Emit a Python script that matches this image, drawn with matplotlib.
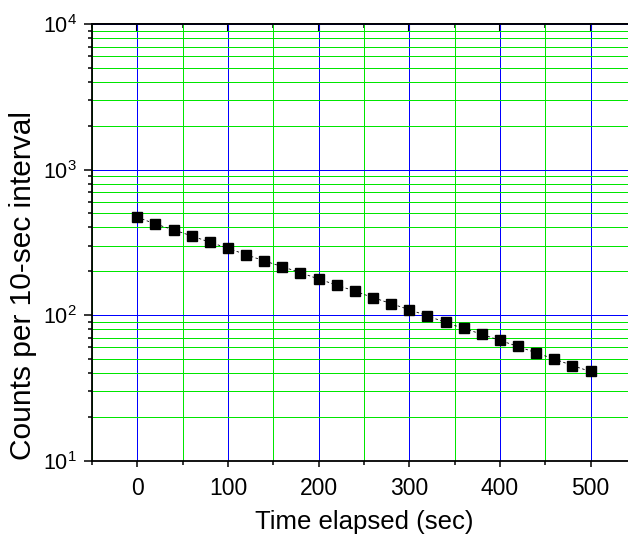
import numpy as np
import matplotlib.pyplot as plt
from matplotlib.ticker import LogLocator, MultipleLocator

plt.rcParams['font.family'] = 'Liberation Sans'
plt.rcParams['mathtext.fontset'] = 'custom'
plt.rcParams['mathtext.rm'] = 'Liberation Sans'
plt.rcParams['mathtext.it'] = 'Liberation Sans'

# time (sec) and counts per 10-sec interval
time_sec = [0, 20, 40, 60, 80, 100, 120, 140, 160, 180, 200, 220, 240,
            260, 280, 300, 320, 340, 360, 380, 400, 420, 440, 460, 480, 500]
counts = [470, 423, 385, 350, 317, 288, 260, 236, 215, 196, 177, 161, 146,
          132, 120, 109, 99, 89, 81, 74, 67, 61, 55, 50, 45, 41]

x_ticks = [0, 100, 200, 300, 400, 500]
y_ticks = [10, 100, 1000, 10000]
y_labels = ['$10^{1}$', '$10^{2}$', '$10^{3}$', '$10^{4}$']

fig = plt.figure(figsize=(6.28, 5.38), dpi=100)
# the original is cropped on the right, so the axes run past the canvas
ax = fig.add_axes([0.1465, 0.1437, 0.866, 0.8117])

ax.set_yscale('log')
ax.set_xlim(-50, 550)
ax.set_ylim(10, 10000)

# grid: blue on major, green on minor, kept as crisp 1 px lines
ax.xaxis.set_minor_locator(MultipleLocator(50))
ax.yaxis.set_minor_locator(LogLocator(base=10, subs=np.arange(2, 10)))
ax.grid(True, which='major', color='#0000ff', linewidth=0.5, antialiased=False)
ax.grid(True, which='minor', color='#00e600', linewidth=0.5, antialiased=False)
ax.set_axisbelow(True)

ax.plot(time_sec, counts, color='black', linestyle=(0, (3, 3)), linewidth=0.6,
        marker='s', markersize=7.5, markerfacecolor='black', markeredgecolor='black')

ax.set_xticks(x_ticks)
ax.set_xticklabels([str(t) for t in x_ticks])
ax.set_yticks(y_ticks)
ax.set_yticklabels(y_labels)

ax.tick_params(axis='x', which='major', direction='out', length=4.5, width=1.1,
               labelsize=16.5, pad=7, top=False)
ax.tick_params(axis='x', which='minor', direction='out', length=3, width=1.1, top=False)
ax.tick_params(axis='y', which='major', direction='out', length=6, width=1.1,
               labelsize=15.5, pad=5, right=False)
ax.tick_params(axis='y', which='minor', direction='out', length=3, width=1.1, right=False)

# ticks on top point inward
top = ax.secondary_xaxis('top')
top.set_xticks(x_ticks)
top.xaxis.set_minor_locator(MultipleLocator(50))
top.tick_params(which='major', direction='in', length=6, width=1.5, labeltop=False)
top.tick_params(which='minor', direction='in', length=3, width=1.1)
top.spines['top'].set_linewidth(1.3)

for side in ['left', 'bottom', 'top']:
    ax.spines[side].set_linewidth(1.3)
ax.spines['right'].set_visible(False)

fig.text(364 / 628, 1 - 522 / 538, 'Time elapsed (sec)', fontsize=18.5,
         ha='center', va='center')
fig.text(23 / 628, 1 - 286 / 538, 'Counts per 10-sec interval', fontsize=21.5,
         ha='center', va='center', rotation=90)

fig.savefig('out.png', dpi=100)
